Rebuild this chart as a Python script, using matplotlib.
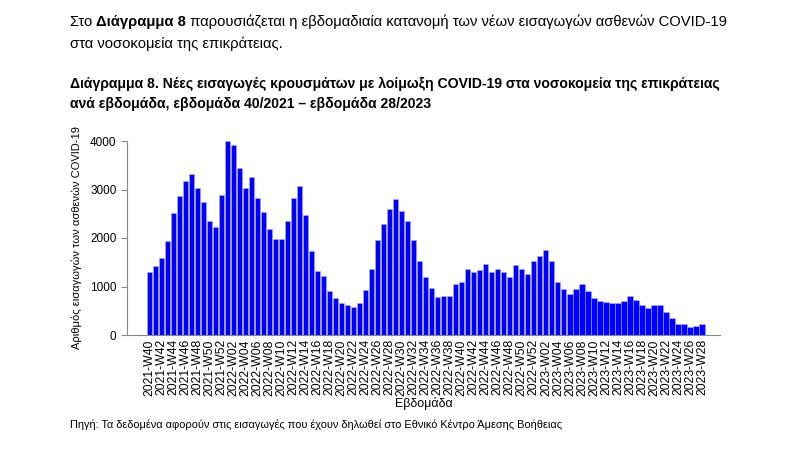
import matplotlib.pyplot as plt
import numpy as np

# weekly new hospital admissions, week 40/2021 - week 28/2023
weeks = ([f'2021-W{w:02d}' for w in range(40, 53)]
         + [f'2022-W{w:02d}' for w in range(1, 53)]
         + [f'2023-W{w:02d}' for w in range(1, 29)])
admissions = [1305, 1430, 1595, 1940, 2515, 2865, 3175, 3310, 3030, 2750, 2345, 2225, 2885,
              3995, 3915, 3435, 3030, 3265, 2830, 2530, 2190, 1985, 1985, 2355, 2820, 3070,
              2475, 1725, 1320, 1210, 905, 755, 665, 620, 585, 660, 930, 1370, 1960, 2280,
              2590, 2800, 2565, 2350, 1960, 1535, 1195, 970, 790, 810, 810, 1050, 1095, 1360,
              1305, 1335, 1465, 1300, 1370, 1290, 1205, 1445, 1355, 1260, 1520, 1635, 1755,
              1535, 1100, 950, 845, 940, 1050, 905, 755, 710, 690, 665, 665, 695, 810, 720,
              625, 550, 625, 625, 480, 350, 220, 220, 170, 190, 225]
yticks = [0, 1000, 2000, 3000, 4000]

intro_parts = [('Στο ', 'normal'), ('Διάγραμμα 8', 'bold'),
               (' παρουσιάζεται η εβδομαδιαία κατανομή των νέων εισαγωγών ασθενών COVID-19', 'normal')]
intro_line2 = 'στα νοσοκομεία της επικράτειας.'
title_lines = ['Διάγραμμα 8. Νέες εισαγωγές κρουσμάτων με λοίμωξη COVID-19 στα νοσοκομεία της επικράτειας',
               'ανά εβδομάδα, εβδομάδα 40/2021 – εβδομάδα 28/2023']
source = 'Πηγή: Τα δεδομένα αφορούν στις εισαγωγές που έχουν δηλωθεί στο Εθνικό Κέντρο Άμεσης Βοήθειας'

plt.rcParams['font.family'] = ['Liberation Sans', 'DejaVu Sans']

fig = plt.figure(figsize=(8, 4.5), dpi=100)
ax = fig.add_axes([127 / 800, 1 - 335 / 450, (720 - 127) / 800, (335 - 141) / 450])

x = np.arange(len(weeks))
ax.bar(x, admissions, width=0.85, color='#0000ff', edgecolor='#b0b0ff', linewidth=0.4)

ax.set_xlim(-3.8, 95)
ax.set_ylim(0, 4000)
ax.set_yticks(yticks)
ax.tick_params(axis='y', labelsize=8.5, color='#888888', length=4)
ax.set_xticks(x[::2])
ax.set_xticklabels(weeks[::2], rotation=90, fontsize=8.8)
ax.tick_params(axis='x', length=0, pad=3)
for s in ['top', 'right']:
    ax.spines[s].set_visible(False)
for s in ['left', 'bottom']:
    ax.spines[s].set_color('#888888')
ax.set_ylabel('Αριθμός εισαγωγών των ασθενών COVID-19', fontsize=8, labelpad=6)
ax.set_xlabel('Εβδομάδα', fontsize=9, labelpad=1)

# intro line with a bold part
fig.canvas.draw()
r = fig.canvas.get_renderer()
xpos = 70 / 800
for txt, wt in intro_parts:
    t = fig.text(xpos, 1 - 22 / 450, txt, fontsize=10.6, fontweight=wt, va='center')
    bb = t.get_window_extent(renderer=r)
    xpos += bb.width / fig.bbox.width
fig.text(70 / 800, 1 - 44 / 450, intro_line2, fontsize=10.6, va='center')
fig.text(70 / 800, 1 - 84 / 450, title_lines[0], fontsize=10.1, fontweight='bold', va='center')
fig.text(70 / 800, 1 - 104 / 450, title_lines[1], fontsize=10.1, fontweight='bold', va='center')
fig.text(70 / 800, 1 - 425 / 450, source, fontsize=7.9, va='center')

fig.savefig('out.png', dpi=100)
